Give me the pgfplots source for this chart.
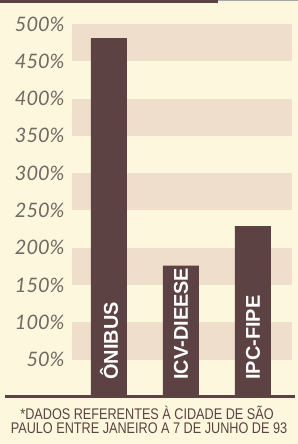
\documentclass[border=0pt]{standalone}
\usepackage{pgfplots}
\usepackage{pgfplotstable}
\usepackage{graphicx}
\pgfplotsset{compat=1.18}
\usepackage{fontspec}
\setmainfont{Lato}
\newfontfamily\notefont{Liberation Sans}
\definecolor{bg}{RGB}{253,248,221}
\definecolor{band}{RGB}{240,222,205}
\definecolor{barcol}{RGB}{92,66,66}
\definecolor{tickgray}{RGB}{115,105,100}
\pgfplotstableread{
x y
0 481
1 176
2 229
}\datatable
\begin{document}
\begin{tikzpicture}
\fill[bg] (0,0) rectangle (298bp,444bp);
\fill[barcol] (0,441bp) rectangle (218bp,444bp);
\draw[black!35, line width=1bp] (218bp,443bp) -- (298bp,443bp);
\begin{axis}[
  at={(68bp,47bp)}, anchor=south west,
  scale only axis, width=224bp, height=388bp,
  xmin=-0.569, xmax=2.542, ymin=0, ymax=520,
  axis line style={draw=none},
  xtick=\empty,
  ytick={50,100,...,500},
  yticklabel={\pgfmathprintnumber{\tick}\%},
  /pgf/number format/assume math mode=true,
  major tick length=0pt,
  yticklabel style={font=\itshape\fontsize{20}{20}\selectfont, text=tickgray},
  clip=false,
]
\fill[band] (axis cs:-0.514,450) rectangle (axis cs:2.542,500);
\fill[band] (axis cs:-0.514,350) rectangle (axis cs:2.542,400);
\fill[band] (axis cs:-0.514,250) rectangle (axis cs:2.542,300);
\fill[band] (axis cs:-0.514,150) rectangle (axis cs:2.542,200);
\fill[band] (axis cs:-0.514,50) rectangle (axis cs:2.542,100);
\addplot[ybar, bar width=0.5, fill=barcol, draw=none] table[x=x,y=y] {\datatable};
\draw[barcol, line width=3bp] (axis cs:-1.444,0) -- (axis cs:2.583,0);
\node[rotate=90, anchor=west, inner sep=0pt, text=white, font=\notefont\bfseries\fontsize{20}{20}\selectfont] at (axis cs:0,23) {ÔNIBUS};
\node[rotate=90, anchor=west, inner sep=0pt, text=white, font=\notefont\bfseries\fontsize{20}{20}\selectfont] at (axis cs:1,23) {ICV-DIEESE};
\node[rotate=90, anchor=west, inner sep=0pt, text=white, font=\notefont\bfseries\fontsize{20}{20}\selectfont] at (axis cs:2,23) {IPC-FIPE};
\end{axis}
\node[text=barcol, font=\notefont\fontsize{15.5}{15.5}\selectfont, inner sep=0pt] at (147bp,31.5bp) {\scalebox{0.82}[1]{*DADOS REFERENTES À CIDADE DE SÃO}};
\node[text=barcol, font=\notefont\fontsize{15.5}{15.5}\selectfont, inner sep=0pt] at (149bp,16bp) {\scalebox{0.82}[1]{PAULO ENTRE JANEIRO A 7 DE JUNHO DE 93}};
\pgfresetboundingbox
\useasboundingbox (0,0) rectangle (298bp,444bp);
\end{tikzpicture}
\end{document}
